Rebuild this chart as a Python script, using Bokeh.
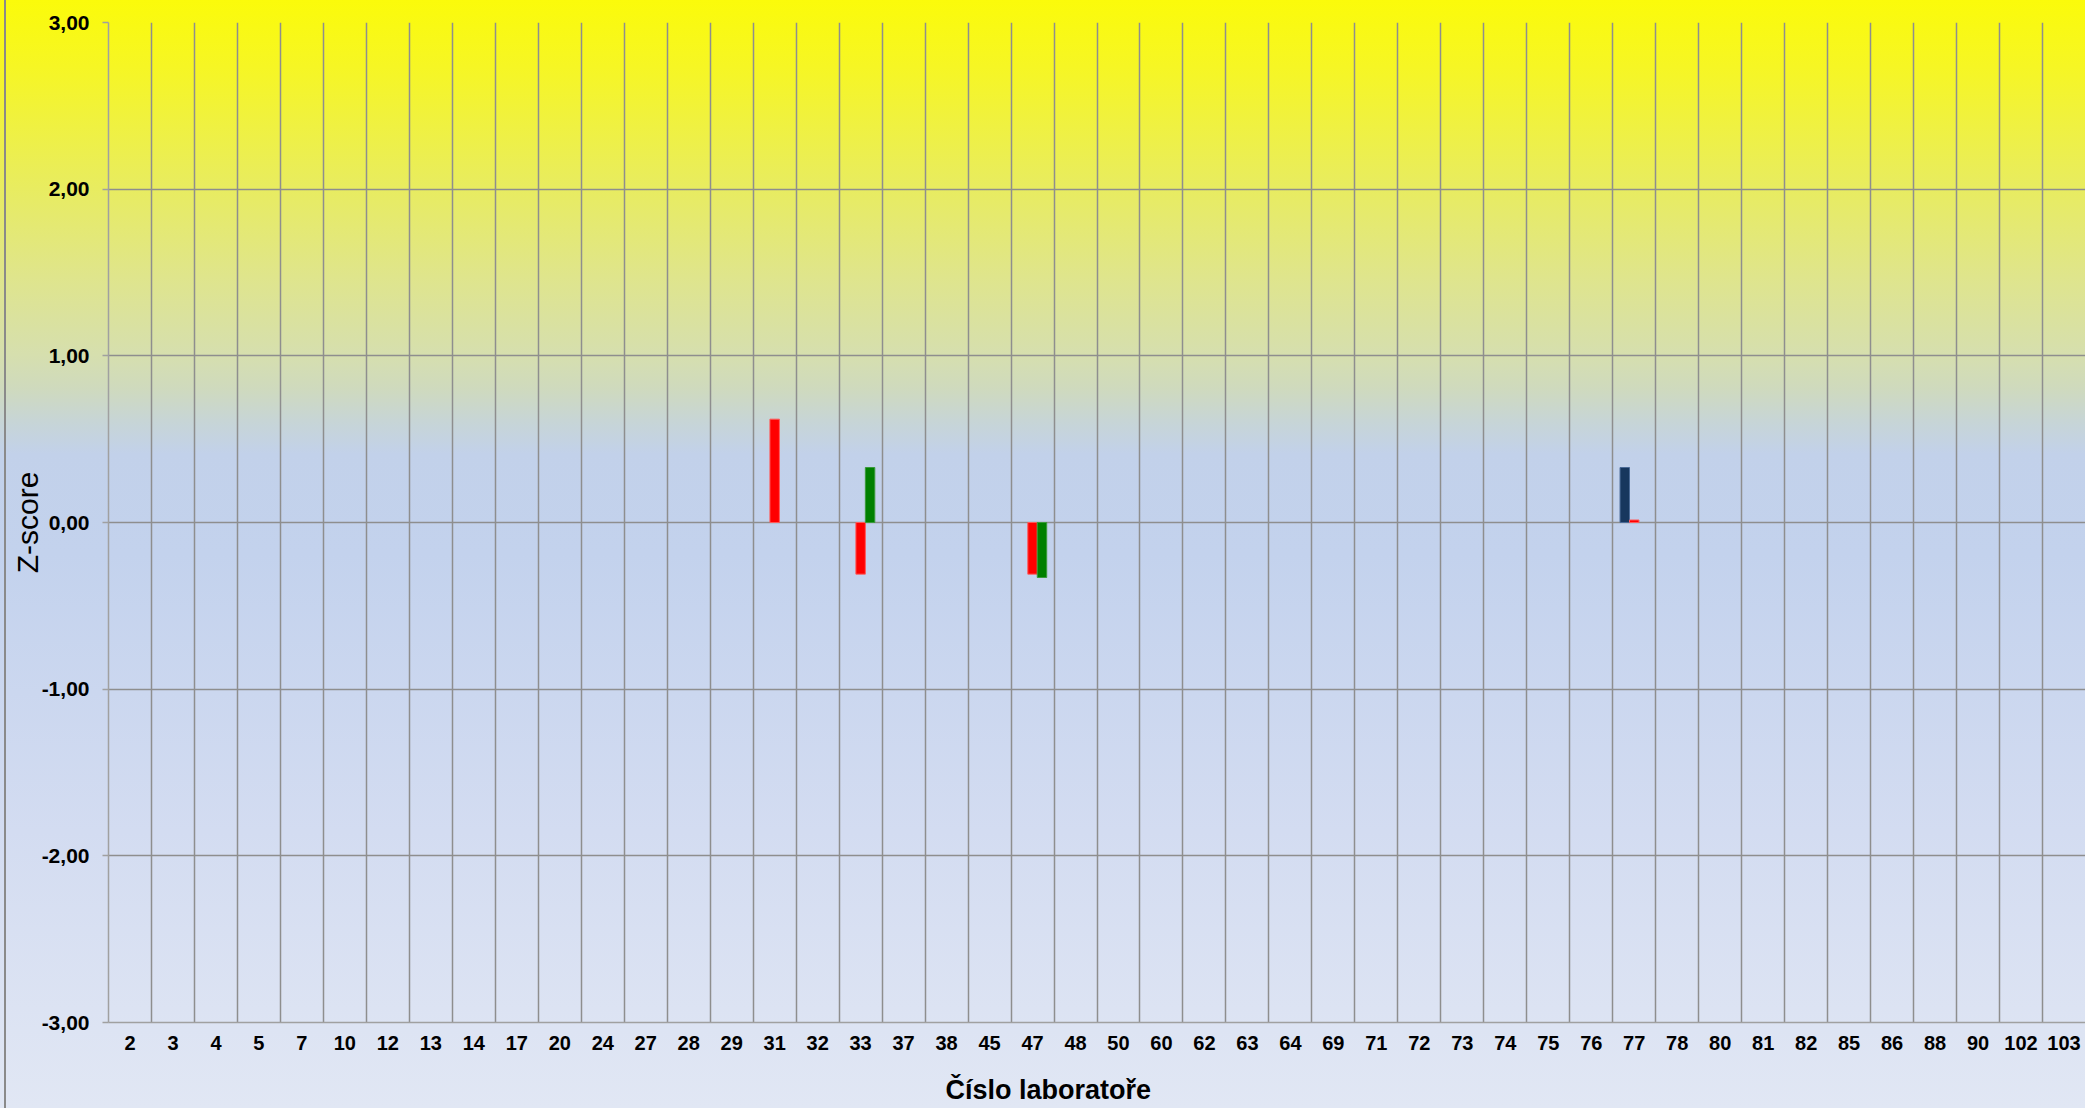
import numpy as np
from bokeh.plotting import figure
from bokeh.models import Range1d, FixedTicker, LinearAxis, Title
from bokeh.embed import file_html
from bokeh.resources import INLINE

nan = float("nan")

# Lab numbers (x categories)
labs = ["2", "3", "4", "5", "7", "10", "12", "13", "14", "17",
        "20", "24", "27", "28", "29", "31", "32", "33", "37", "38",
        "45", "47", "48", "50", "60", "62", "63", "64", "69", "71",
        "72", "73", "74", "75", "76", "77", "78", "80", "81", "82",
        "85", "86", "88", "90", "102", "103"]

# Z-score series (nan = no value)
z_navy = [nan, nan, nan, nan, nan, nan, nan, nan, nan, nan,
          nan, nan, nan, nan, nan, nan, nan, nan, nan, nan,
          nan, nan, nan, nan, nan, nan, nan, nan, nan, nan,
          nan, nan, nan, nan, nan, 0.33, nan, nan, nan, nan,
          nan, nan, nan, nan, nan, nan]
z_red = [nan, nan, nan, nan, nan, nan, nan, nan, nan, nan,
         nan, nan, nan, nan, nan, 0.62, nan, -0.31, nan, nan,
         nan, -0.31, nan, nan, nan, nan, nan, nan, nan, nan,
         nan, nan, nan, nan, nan, 0.015, nan, nan, nan, nan,
         nan, nan, nan, nan, nan, nan]
z_green = [nan, nan, nan, nan, nan, nan, nan, nan, nan, nan,
           nan, nan, nan, nan, nan, nan, nan, 0.33, nan, nan,
           nan, -0.33, nan, nan, nan, nan, nan, nan, nan, nan,
           nan, nan, nan, nan, nan, nan, nan, nan, nan, nan,
           nan, nan, nan, nan, nan, nan]

y_ticks = [-3, -2, -1, 0, 1, 2, 3]
y_tick_labels = ["-3,00", "-2,00", "-1,00", "0,00", "1,00", "2,00", "3,00"]

series = [(z_navy, "#17375E", "#4A6A96", -1),
          (z_red, "#FF0000", "#FF5A5A", 0),
          (z_green, "#008000", "#3A9A3A", 1)]

FONT = "Liberation Sans"
GRID = "#8e8e8e"

W, H = 2085, 1108
n = len(labs)
centers = np.arange(n) + 0.5
bw = 0.22

gradient = ("linear-gradient(to right, transparent 4px, #8a8a8a 4px, #8a8a8a 6px, transparent 6px), "
            "linear-gradient(to bottom, #fbfb0a 0%, #f6f624 6%, #e8ec60 17%, #dfe58c 25%, "
            "#d6dfae 32%, #cfdabd 35%, #c7d5d6 38%, #c2d1ea 41%, #c3d2ed 50%, "
            "#d3dcf1 75%, #e1e7f4 100%)")

p = figure(width=W, height=H, output_backend="svg", toolbar_location=None,
           x_range=Range1d(0, n), y_range=Range1d(-3, 3), title=None,
           min_border_left=108, min_border_right=0, min_border_top=22,
           min_border_bottom=86,
           border_fill_color=None, background_fill_color=None,
           outline_line_color=None,
           styles={"background": gradient})

for vals, fill, edge, k in series:
    p.vbar(x=centers + k * bw, top=np.array(vals, dtype=float), bottom=0,
           width=bw, fill_color=fill, line_color=edge, line_width=1)

# x axis
p.xaxis.ticker = FixedTicker(ticks=list(centers))
p.xaxis.major_label_overrides = {float(c): lab for c, lab in zip(centers, labs)}
p.xaxis.major_tick_out = 0
p.xaxis.major_tick_in = 0
p.xaxis.minor_tick_out = 0
p.xaxis.minor_tick_in = 0
p.xaxis.axis_line_color = "#a0a0a0"
p.xaxis.axis_line_width = 1.5
p.xaxis.major_label_text_font = FONT
p.xaxis.major_label_text_font_style = "bold"
p.xaxis.major_label_text_font_size = "20px"
p.xaxis.major_label_text_color = "#000000"
p.xaxis.major_label_standoff = 13

# invisible spacer axis between tick labels and the axis title
spacer = LinearAxis(ticker=FixedTicker(ticks=[float(n)]), axis_line_color=None,
                    major_tick_line_color="#dfe6f3", major_tick_line_alpha=0.01,
                    minor_tick_line_color=None,
                    major_tick_out=20, major_tick_in=0, minor_tick_out=0,
                    minor_tick_in=0, major_label_standoff=0,
                    major_label_overrides={float(n): ""},
                    major_label_text_font_size="1px")
p.add_layout(spacer, "below")

# x-axis title, left of the frame centre as in the original
xtitle = Title(text="Číslo laboratoře", align="left", offset=837,
               text_font=FONT, text_font_style="bold", text_font_size="27px",
               text_color="#000000", standoff=0)
p.add_layout(xtitle, "below")

# y axis
p.yaxis.ticker = FixedTicker(ticks=y_ticks)
p.yaxis.major_label_overrides = {t: s for t, s in zip(y_ticks, y_tick_labels)}
p.yaxis.major_tick_out = 6
p.yaxis.major_tick_in = 0
p.yaxis.minor_tick_out = 0
p.yaxis.minor_tick_in = 0
p.yaxis.major_tick_line_color = "#a0a0a0"
p.yaxis.major_tick_line_width = 1.5
p.yaxis.axis_line_color = "#a0a0a0"
p.yaxis.axis_line_width = 1.5
p.yaxis.major_label_text_font = FONT
p.yaxis.major_label_text_font_style = "bold"
p.yaxis.major_label_text_font_size = "21px"
p.yaxis.major_label_text_color = "#000000"
p.yaxis.major_label_standoff = 13
p.yaxis.axis_label = "Z-score"
p.yaxis.axis_label_text_font = FONT
p.yaxis.axis_label_text_font_style = "normal"
p.yaxis.axis_label_text_font_size = "30px"
p.yaxis.axis_label_text_color = "#000000"
p.yaxis.axis_label_standoff = -5

# grids
p.xgrid.ticker = FixedTicker(ticks=list(range(0, n + 1)))
p.xgrid.grid_line_color = GRID
p.xgrid.grid_line_width = 1.5
p.ygrid.ticker = FixedTicker(ticks=y_ticks)
p.ygrid.grid_line_color = GRID
p.ygrid.grid_line_width = 1.5

open("out.html", "w").write(file_html(p, INLINE))
